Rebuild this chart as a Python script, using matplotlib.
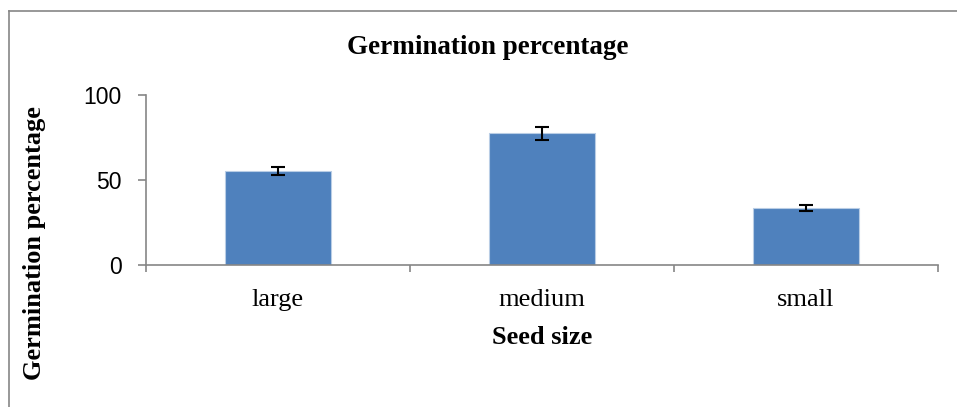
import matplotlib.pyplot as plt
from matplotlib.lines import Line2D

# donnees
tailles = ['large', 'medium', 'small']
germination = [55.3, 77.6, 33.6]
erreurs = [2.6, 3.8, 1.8]
ticks_y = [0, 50, 100]

fig = plt.figure(figsize=(9.57, 4.07), dpi=100)
ax = fig.add_axes([146 / 957, 1 - 265 / 407, (938 - 146) / 957, (265 - 95) / 407])

pos = list(range(len(tailles)))
ax.bar(pos, germination, width=0.4, color='#4f81bd', edgecolor='#b9cde5', linewidth=0.8,
       yerr=erreurs, error_kw=dict(ecolor='black', elinewidth=1.5, capsize=5, capthick=1.5))

ax.set_xlim(-0.5, 2.5)
ax.set_ylim(0, 100)
ax.set_yticks(ticks_y)
ax.set_yticklabels([str(t) for t in ticks_y], fontfamily='Liberation Sans', fontsize=16.5)
ax.set_xticks([-0.5, 0.5, 1.5, 2.5])
ax.set_xticklabels([])
ax.set_xticks(pos, minor=True)
ax.set_xticklabels(tailles, minor=True, fontfamily='Liberation Serif', fontsize=19)
ax.tick_params(axis='x', which='minor', length=0, pad=17)
ax.tick_params(axis='x', which='major', direction='out', length=5, color='#868686', width=1.2)
ax.tick_params(axis='y', direction='out', length=5.5, color='#868686', width=1.2, pad=12)

for s in ['top', 'right']:
    ax.spines[s].set_visible(False)
for s in ['left', 'bottom']:
    ax.spines[s].set_color('#868686')
    ax.spines[s].set_linewidth(1.2)

fig.text(488 / 957, 1 - 47 / 407, 'Germination percentage', ha='center', va='center',
         fontfamily='Liberation Serif', fontweight='bold', fontsize=19.5)
fig.text(542 / 957, 1 - 337 / 407, 'Seed size', ha='center', va='center',
         fontfamily='Liberation Serif', fontweight='bold', fontsize=19)
fig.text(35 / 957, 1 - 243 / 407, 'Germination percentage', ha='center', va='center', rotation=90,
         fontfamily='Liberation Serif', fontweight='bold', fontsize=19)

# cadre du graphique
fig.add_artist(Line2D([9 / 957, 9 / 957], [0, 1 - 11 / 407], color='#868686', lw=1.2))
fig.add_artist(Line2D([9 / 957, 1], [1 - 11 / 407, 1 - 11 / 407], color='#868686', lw=1.2))

fig.savefig('out.png', dpi=100)
